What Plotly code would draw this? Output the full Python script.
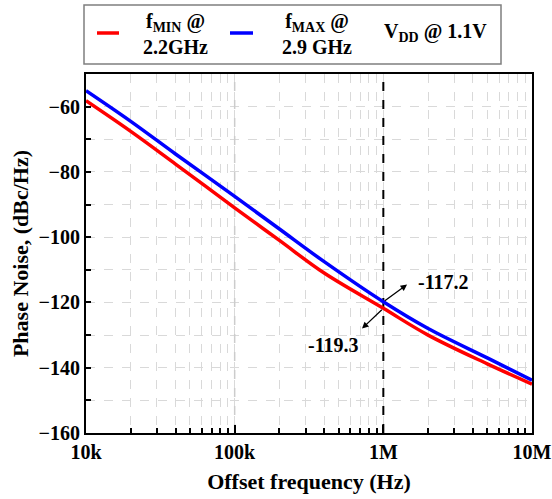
import math
import plotly.graph_objects as go

freq_hz = [1e4, 2e4, 4e4, 1e5, 2e5, 4e5, 1e6, 2e6, 5e6, 1e7]
pn_fmin = [-58.2, -67.6, -77.6, -91.0, -101.0, -111.0, -121.8, -130.0, -138.8, -145.0]
pn_fmax = [-55.1, -64.5, -74.5, -87.5, -97.5, -107.5, -119.8, -128.0, -137.0, -143.8]
x_tickvals = [1e4, 1e5, 1e6, 1e7]
x_ticktext = ["10k", "100k", "1M", "10M"]
y_tickvals = [-160, -140, -120, -100, -80, -60]
marker_freq = 1e6
ref_freq = 1e5
label_fmax = "-117.2"
label_fmin = "-119.3"

FONT = "Liberation Serif, Times New Roman, serif"
fig = go.Figure()

fig.add_trace(go.Scatter(x=[ref_freq, ref_freq], y=[-160, -50], mode="lines",
                         line=dict(color="#cccccc", width=1.5, dash="dash"),
                         showlegend=False, hoverinfo="skip"))
fig.add_trace(go.Scatter(x=[marker_freq, marker_freq], y=[-160, -50], mode="lines",
                         line=dict(color="black", width=2, dash="dash"),
                         showlegend=False, hoverinfo="skip"))

fig.add_trace(go.Scatter(x=freq_hz, y=pn_fmin, mode="lines", line_shape="spline",
                         line=dict(color="#ff0000", width=3.5), showlegend=False))
fig.add_trace(go.Scatter(x=freq_hz, y=pn_fmax, mode="lines", line_shape="spline",
                         line=dict(color="#0000ff", width=3.5), showlegend=False))

L = math.log10

fig.add_annotation(x=L(1.445e6), y=-114.5, ax=L(marker_freq), ay=pn_fmax[6],
                   xref="x", yref="y", axref="x", ayref="y", text="",
                   showarrow=True, arrowhead=2, arrowsize=1, arrowwidth=1.3, arrowcolor="black")
fig.add_annotation(x=L(7.19e5), y=-128.0, ax=L(marker_freq), ay=pn_fmin[6],
                   xref="x", yref="y", axref="x", ayref="y", text="",
                   showarrow=True, arrowhead=2, arrowsize=1, arrowwidth=1.3, arrowcolor="black")
fig.add_annotation(x=L(2.54e6), y=-113.8, text=label_fmax, showarrow=False,
                   xanchor="center", yanchor="middle",
                   font=dict(family=FONT, size=20, color="black", weight="bold"))
fig.add_annotation(x=L(4.6e5), y=-133.0, text=label_fmin, showarrow=False,
                   xanchor="center", yanchor="middle",
                   font=dict(family=FONT, size=20, color="black", weight="bold"))

# custom legend in paper coords; plot area px: x 86..532, y 74..433
W = 446.0
H = 359.0
def px(xp):
    return (xp - 86) / W
def py(yp):
    return (433 - yp) / H

fig.add_shape(type="rect", xref="paper", yref="paper", x0=px(84), x1=px(501), y0=py(64), y1=py(5),
              line=dict(color="#7f7f7f", width=1.5), fillcolor="white")
fig.add_shape(type="line", xref="paper", yref="paper", x0=px(97), x1=px(119), y0=py(33), y1=py(33),
              line=dict(color="#ff0000", width=3.5))
fig.add_shape(type="line", xref="paper", yref="paper", x0=px(230), x1=px(253), y0=py(33), y1=py(33),
              line=dict(color="#0000ff", width=3.5))
legend_font = dict(family=FONT, size=20, color="black", weight="bold")
fig.add_annotation(xref="paper", yref="paper", x=px(175), y=py(34), showarrow=False,
                   xanchor="center", yanchor="middle",
                   text="f<sub>MIN</sub> @<br>2.2GHz", font=legend_font, align="center")
fig.add_annotation(xref="paper", yref="paper", x=px(317), y=py(34), showarrow=False,
                   xanchor="center", yanchor="middle",
                   text="f<sub>MAX</sub> @<br>2.9 GHz", font=legend_font, align="center")
fig.add_annotation(xref="paper", yref="paper", x=px(435), y=py(33), showarrow=False,
                   xanchor="center", yanchor="middle",
                   text="V<sub>DD</sub> @ 1.1V", font=legend_font, align="center")

tickfont = dict(family=FONT, size=20, color="black", weight="bold")
titlefont = dict(family=FONT, size=22, color="black", weight="bold")
fig.update_xaxes(type="log", range=[4, 7], tickvals=x_tickvals, ticktext=x_ticktext,
                 tickfont=tickfont, ticks="inside", ticklen=8, tickwidth=2, tickcolor="black",
                 showgrid=False, zeroline=False, showline=True, linecolor="black", linewidth=2,
                 mirror=True, automargin=False,
                 minor=dict(dtick="D1", ticks="inside", ticklen=5, tickwidth=1.5, tickcolor="black",
                            showgrid=True, gridcolor="#d9d9d9", griddash="dash", gridwidth=1),
                 title=dict(text="Offset frequency (Hz)", font=titlefont, standoff=12))
fig.update_yaxes(range=[-160, -50], tickvals=y_tickvals, tickfont=tickfont,
                 ticks="inside", ticklen=5, tickwidth=2, tickcolor="black",
                 showgrid=False, zeroline=False, showline=True, linecolor="black", linewidth=2,
                 mirror=True, automargin=False,
                 minor=dict(dtick=10, tick0=-160, ticks="inside", ticklen=5, tickwidth=1.5, tickcolor="black",
                            showgrid=True, gridcolor="#d9d9d9", griddash="dash", gridwidth=1),
                 title=dict(text="Phase Noise, (dBc/Hz)", font=titlefont, standoff=4))

fig.update_layout(width=552, height=499, margin=dict(l=86, r=20, t=74, b=66),
                  paper_bgcolor="white", plot_bgcolor="white", showlegend=False)

fig.write_html("out.html")
